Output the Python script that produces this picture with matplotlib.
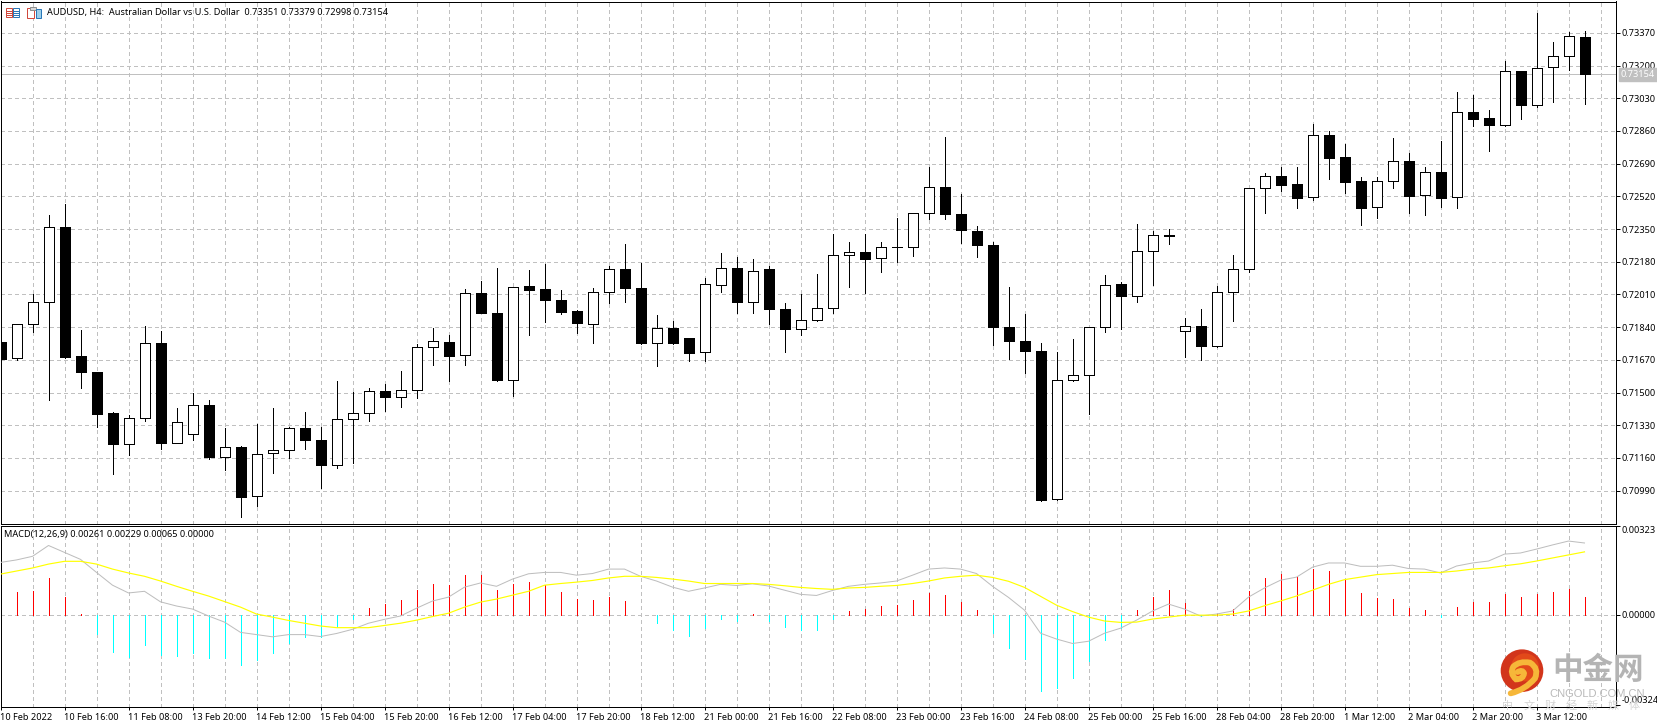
import matplotlib
matplotlib.use("Agg")
import matplotlib.pyplot as plt
import numpy as np
from matplotlib.patches import Circle, PathPatch, Rectangle
from matplotlib.path import Path

plt.rcParams["font.family"] = ["Noto Sans", "Noto Sans CJK SC", "DejaVu Sans"]

# prices in 1/100000
opens = [
    71765, 71677, 71858, 71973, 72363, 71688, 71609, 71391, 71234, 71368,
    71760, 71240, 71282, 71433, 71167, 71215, 70960, 71183, 71199, 71313,
    71255, 71125, 71364, 71391, 71510, 71475, 71515, 71739, 71765, 71693,
    72020, 71911, 71563, 72052, 72036, 71982, 71925, 71857, 72022, 72140,
    72044, 71757, 71837, 71785, 71712, 72060, 72148, 71970, 72140, 71935,
    71832, 71877, 71941, 72214, 72232, 72199, 72258, 72258, 72432, 72569,
    72429, 72341, 72268, 71842, 71769, 71717, 70948, 71567, 71593, 71840,
    72062, 72004, 72238, 72319, 71818, 71844, 71742, 72025, 72140, 72561,
    72628, 72583, 72514, 72837, 72727, 72598, 72463, 72602, 72702, 72525,
    72644, 72514, 72957, 72925, 72892, 73170, 72997, 73191, 73252, 73351,
]
highs = [
    71765, 71857, 72011, 72423, 72482, 71825, 71609, 71401, 71385, 71844,
    71818, 71419, 71496, 71459, 71315, 71220, 71336, 71419, 71320, 71398,
    71320, 71559, 71505, 71521, 71544, 71610, 71751, 71835, 71800, 72036,
    72080, 72145, 72050, 72136, 72166, 72034, 71928, 72041, 72160, 72270,
    72176, 71904, 71870, 71785, 72098, 72223, 72207, 72195, 72160, 71963,
    72010, 72114, 72325, 72280, 72325, 72280, 72405, 72434, 72670, 72831,
    72533, 72367, 72283, 72051, 71906, 71759, 71709, 71776, 71842, 72109,
    72073, 72375, 72338, 72352, 71890, 71934, 72052, 72213, 72565, 72639,
    72670, 72672, 72895, 72858, 72790, 72618, 72623, 72823, 72744, 72670,
    72808, 73062, 73045, 72968, 73226, 73170, 73474, 73323, 73374, 73379,
]
lows = [
    71675, 71670, 71814, 71463, 71677, 71524, 71320, 71078, 71175, 71352,
    71208, 71240, 71252, 71155, 71097, 70853, 70911, 71083, 71160, 71208,
    71002, 71108, 71134, 71352, 71403, 71426, 71473, 71644, 71559, 71644,
    71914, 71558, 71482, 71800, 71867, 71908, 71812, 71757, 71965, 71970,
    71752, 71638, 71754, 71664, 71664, 72025, 71913, 71913, 71856, 71710,
    71799, 71871, 71913, 72048, 72020, 72126, 72178, 72212, 72403, 72401,
    72275, 72204, 71748, 71672, 71600, 70936, 70942, 71560, 71387, 71814,
    71832, 71973, 72059, 72273, 71684, 71670, 71737, 71871, 72125, 72435,
    72549, 72461, 72502, 72611, 72539, 72372, 72407, 72565, 72433, 72424,
    72465, 72461, 72887, 72757, 72887, 72924, 72985, 73011, 73178, 72998,
]
closes = [
    71675, 71857, 71973, 72363, 71686, 71607, 71389, 71233, 71370, 71760,
    71238, 71349, 71433, 71166, 71215, 70958, 71178, 71199, 71313, 71254,
    71123, 71364, 71391, 71510, 71475, 71515, 71739, 71770, 71691, 72020,
    71914, 71566, 72050, 72034, 71981, 71918, 71861, 72024, 72143, 72043,
    71757, 71837, 71757, 71705, 72065, 72148, 71970, 72133, 71932, 71830,
    71878, 71941, 72216, 72230, 72193, 72258, 72258, 72434, 72569, 72427,
    72344, 72266, 71840, 71767, 71715, 70942, 71567, 71593, 71842, 72060,
    72002, 72238, 72317, 72312, 71844, 71742, 72025, 72140, 72561, 72628,
    72581, 72512, 72837, 72721, 72597, 72461, 72602, 72702, 72523, 72644,
    72512, 72957, 72924, 72892, 73170, 72996, 73185, 73252, 73356, 73154,
]

# MACD panel, also in 1/100000
macd_main = [
    191, 200, 213, 252, 227, 202, 155, 109, 81, 87,
    49, 34, 23, -2, -24, -61, -69, -77, -69, -69,
    -76, -65, -50, -28, -14, -2, 26, 52, 66, 102,
    117, 105, 131, 150, 155, 155, 145, 151, 167, 167,
    141, 124, 102, 87, 99, 112, 108, 114, 106, 91,
    76, 72, 90, 105, 112, 117, 124, 145, 167, 171,
    167, 151, 105, 65, 19, -64, -85, -101, -93, -64,
    -46, -17, 16, 41, 23, -2, 5, 16, 66, 99,
    127, 138, 174, 189, 189, 177, 177, 181, 169, 167,
    153, 178, 189, 196, 221, 225, 239, 254, 268, 261,
]
macd_signal = [
    149, 160, 171, 185, 195, 195, 185, 167, 153, 141,
    124, 105, 87, 70, 50, 30, 5, -6, -18, -28,
    -38, -44, -44, -44, -36, -28, -17, -4, 8, 30,
    48, 59, 73, 87, 109, 115, 120, 126, 135, 141,
    141, 137, 131, 124, 115, 115, 115, 115, 112, 107,
    101, 97, 94, 99, 101, 105, 108, 115, 124, 135,
    141, 145, 137, 123, 101, 69, 37, 14, -6, -20,
    -25, -24, -13, -6, 1, 1, 1, 5, 16, 35,
    52, 70, 91, 112, 129, 138, 147, 151, 155, 155,
    155, 160, 167, 171, 179, 186, 196, 207, 218, 229,
]
macd_hist = [
    0, 84, 88, 135, 66, 5, -67, -132, -151, -107,
    -143, -147, -136, -154, -154, -179, -161, -136, -100, -78,
    -78, -42, -13, 26, 41, 55, 91, 113, 109, 145,
    145, 91, 113, 120, 109, 84, 59, 55, 66, 52,
    0, -28, -53, -75, -44, -13, -20, 5, -20, -42,
    -53, -53, -13, 16, 23, 34, 37, 55, 81, 73,
    48, 19, -64, -118, -157, -273, -261, -227, -165, -89,
    -46, 19, 66, 91, 44, -2, 4, 23, 88, 135,
    149, 138, 167, 160, 127, 81, 63, 59, 26, 19,
    -6, 30, 48, 48, 77, 66, 77, 84, 95, 65,
]

price_levels = [73370, 73200, 73030, 72860, 72690, 72520, 72350, 72180,
                72010, 71840, 71670, 71500, 71330, 71160, 70990]
macd_levels = [323, 0, -324]
last_price = 73154

time_labels = [
    "10 Feb 2022", "10 Feb 16:00", "11 Feb 08:00", "13 Feb 20:00", "14 Feb 12:00",
    "15 Feb 04:00", "15 Feb 20:00", "16 Feb 12:00", "17 Feb 04:00", "17 Feb 20:00",
    "18 Feb 12:00", "21 Feb 00:00", "21 Feb 16:00", "22 Feb 08:00", "23 Feb 00:00",
    "23 Feb 16:00", "24 Feb 08:00", "25 Feb 00:00", "25 Feb 16:00", "28 Feb 04:00",
    "28 Feb 20:00", "1 Mar 12:00", "2 Mar 04:00", "2 Mar 20:00", "3 Mar 12:00",
]

W, H = 1657, 724
PX = 0.72  # one pixel in points at dpi 100
GRID = "#c0c0c0"
FONT = 6.6


def px_axes(left, top, right, bottom):
    return [left / W, 1 - bottom / H, (right - left) / W, (bottom - top) / H]


def scaled(values):
    return np.array(values) / 100000


def style_panel(ax, x_end):
    ax.set_xlim(0, x_end)
    for spine in ax.spines.values():
        spine.set_linewidth(PX)
        spine.set_color("black")
    ax.yaxis.tick_right()
    ax.tick_params(axis="y", length=3.2, width=PX, pad=1, labelsize=FONT)
    for i in range(2, 101, 2):
        ax.axvline(i, color=GRID, lw=PX, ls=(0, (3, 3)), zorder=1, antialiased=False)


def draw_candles(ax, x):
    o, h, l, c = scaled(opens), scaled(highs), scaled(lows), scaled(closes)
    ax.vlines(x, l, h, color="black", lw=PX, zorder=3, antialiased=False)
    bottoms = np.minimum(o, c)
    heights = np.abs(c - o)
    colors = ["black" if c[i] < o[i] else "white" for i in range(len(x))]
    ax.bar(x, heights, width=10 / 16, bottom=bottoms, color=colors,
           edgecolor="black", linewidth=PX, zorder=4, antialiased=False)


def draw_logo(ov):
    def lx(v):
        return 1480 + v / 3

    def ly(v):
        return 640 + v / 3

    ov.add_patch(Circle((lx(126), ly(92)), 21.3, color="#d2351b", lw=0))
    ov.add_patch(Circle((lx(135), ly(82)), 14, color="#e2491a", lw=0))
    verts = [(92, 160), (135, 150), (165, 115), (178, 85), (150, 68), (118, 62),
             (100, 80), (88, 100), (108, 118), (130, 118), (132, 100), (128, 88),
             (113, 96)]
    codes = [Path.MOVETO] + [Path.CURVE3] * (len(verts) - 1)
    swirl = Path([(lx(a), ly(b)) for a, b in verts], codes)
    ov.add_patch(PathPatch(swirl, fill=False, edgecolor="#f6b739", lw=4.2,
                           capstyle="round"))
    ov.text(lx(354), ly(90), "中金网", ha="center", va="center", color="#b4b4b4",
            fontsize=22, fontweight="bold", family="Noto Sans CJK SC")
    ov.text(lx(352), ly(163), "CNGOLD.COM.CN", ha="center", va="center",
            color="#b9b9b9", fontsize=8, family="Liberation Sans")
    for k, ch in enumerate("中文财经新媒体"):
        ov.text(1508 + k * 21, ly(198), ch, ha="center", va="center", color="#d6d6d6",
                fontsize=8, family="Noto Sans CJK SC")


def draw_icons(ov):
    for left, edge in ((5.5, "#d0483c"), (12.5, "#2a78b8")):
        ov.add_patch(Rectangle((left, 7.5), 6.5, 9.5, fc="white", ec=edge, lw=PX))
        for y in (10.5, 13, 15):
            ov.plot([left + 1, left + 5.5], [y, y], color=edge, lw=PX)
    ov.add_patch(Rectangle((26.5, 8), 7, 9.5, fc="white", ec="#d0483c", lw=PX))
    ov.add_patch(Rectangle((30, 6.5), 6, 3, fc="#d8d8d8", ec="#909090", lw=PX))
    ov.add_patch(Rectangle((35.5, 9), 5.5, 8.5, fc="#9ccfea", ec="#2a78b8", lw=PX))


def main():
    fig = plt.figure(figsize=(W / 100, H / 100), dpi=100, facecolor="white")
    x = np.arange(len(opens))
    x_end = 1615 / 16

    ax = fig.add_axes(px_axes(0.5, 1.5, 1615.5, 523.5))
    style_panel(ax, x_end)
    ax.set_ylim(0.70819, 0.73533)
    for level in price_levels:
        ax.axhline(level / 100000, color=GRID, lw=PX, ls=(0, (3, 3)), zorder=1,
                   antialiased=False)
    ax.axhline(last_price / 100000, color=GRID, lw=PX, zorder=2, snap=True)
    draw_candles(ax, x)
    ax.set_xticks([])
    ax.set_yticks(scaled(price_levels), [f"{v / 100000:.5f}" for v in price_levels])
    ax.text(1.0032, last_price / 100000, f"{last_price / 100000:.5f}",
            transform=ax.get_yaxis_transform(), color="white", fontsize=FONT,
            va="center", ha="left", zorder=6, clip_on=False,
            bbox=dict(facecolor=GRID, edgecolor=GRID, pad=1.2))

    macd = fig.add_axes(px_axes(0.5, 525.5, 1615.5, 706.5))
    style_panel(macd, x_end)
    macd.set_ylim(-0.00328, 0.00324)
    macd.axhline(0, color=GRID, lw=PX, ls=(0, (3, 3)), zorder=1, antialiased=False)
    hist = scaled(macd_hist)
    hist_colors = ["#ff0000" if v > 0 else "#00ffff" for v in hist]
    macd.vlines(x, 0, hist, colors=hist_colors, lw=PX, zorder=3, antialiased=False)
    macd.plot(x, scaled(macd_main), color="#bdbdbd", lw=PX, zorder=4)
    macd.plot(x, scaled(macd_signal), color="#ffff00", lw=0.85, zorder=5)
    macd.set_xticks(x[::4], time_labels, ha="left")
    macd.tick_params(axis="x", length=2.5, width=PX, pad=2, labelsize=FONT)
    macd.set_yticks(scaled(macd_levels), [f"{v / 100000:.5f}" for v in macd_levels])
    for label, va in zip(macd.get_yticklabels(), ("top", "center", "bottom")):
        label.set_va(va)

    ov = fig.add_axes([0, 0, 1, 1], zorder=10)
    ov.set_xlim(0, W)
    ov.set_ylim(H, 0)
    ov.axis("off")
    ov.patch.set_alpha(0)
    draw_icons(ov)
    ov.text(47, 12.5, "AUDUSD, H4:  Australian Dollar vs U.S. Dollar  "
            "0.73351 0.73379 0.72998 0.73154", va="center", ha="left", fontsize=FONT)
    ov.text(3.5, 534.5, "MACD(12,26,9) 0.00261 0.00229 0.00065 0.00000",
            va="center", ha="left", fontsize=FONT)
    draw_logo(ov)

    fig.savefig("out.png", dpi=100)


if __name__ == "__main__":
    main()
